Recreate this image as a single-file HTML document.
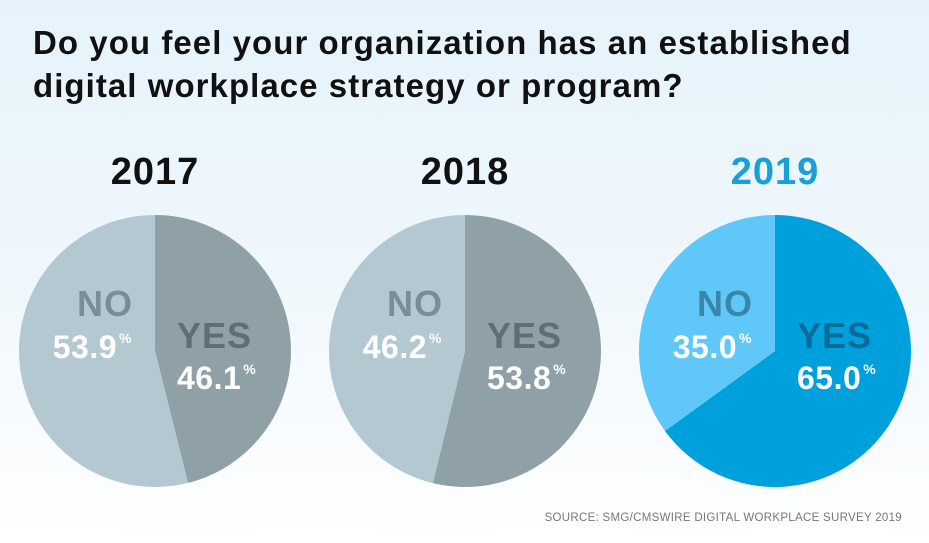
<!DOCTYPE html>
<html><head><meta charset="utf-8"><style>
html,body{margin:0;padding:0}
body{width:929px;height:543px;overflow:hidden;background:linear-gradient(180deg,#e6f3fb 0%,#eff7fc 50%,#ffffff 100%);font-family:"Liberation Sans",sans-serif;position:relative}
.title{position:absolute;left:33px;top:21px;font-size:33px;font-weight:bold;line-height:43px;color:#111;letter-spacing:1.05px}
.src{position:absolute;right:27px;top:512px;font-size:11.5px;color:#777;letter-spacing:0.3px}
</style></head><body>
<div class="title">Do you feel your organization has an established<br>digital workplace strategy or program?</div>
<svg id="chart" width="929" height="543" style="position:absolute;left:0;top:0"></svg>
<div class="src">SOURCE: SMG/CMSWIRE DIGITAL WORKPLACE SURVEY 2019</div>
<script>
const years=["2017","2018","2019"];
const yesValues=[46.1,53.8,65.0];
const noValues=[53.9,46.2,35.0];
const NS="http://www.w3.org/2000/svg";
const svg=document.getElementById('chart');
const cxs=[155,465,775], cy=351, r=136;
const styles=[
 {yes:"#8fa0a7",no:"#b4c8d1",yt:"#5e6e75",nt:"#7b8c94",year:"#111"},
 {yes:"#8fa0a7",no:"#b4c8d1",yt:"#5e6e75",nt:"#7b8c94",year:"#111"},
 {yes:"#00a0dc",no:"#5fc8f8",yt:"#0a6a98",nt:"#3a86aa",year:"#1aa0d8"}];
function pt(cx,a){return [cx+r*Math.sin(a),cy-r*Math.cos(a)];}
function el(tag,attrs,txt){const e=document.createElementNS(NS,tag);for(const k in attrs)e.setAttribute(k,attrs[k]);if(txt!=null)e.textContent=txt;svg.appendChild(e);return e;}
function slice(cx,a0,a1,fill){const p0=pt(cx,a0),p1=pt(cx,a1);const large=(a1-a0)>Math.PI?1:0;
 return el('path',{d:`M${cx},${cy} L${p0[0]},${p0[1]} A${r},${r} 0 ${large} 1 ${p1[0]},${p1[1]} Z`,fill:fill});}
function label(x,y,txt,size,fill,anchor,ls){return el('text',{x:x,y:y,'font-size':size,'font-weight':'bold','fill':fill,'text-anchor':anchor||'start','letter-spacing':ls||0,'font-family':'Liberation Sans, sans-serif'},txt);}
years.forEach((yr,i)=>{
 const cx=cxs[i],s=styles[i];
 const total=yesValues[i]+noValues[i];
 const ya=yesValues[i]/total*2*Math.PI;
 const y=label(cx,184,yr,38,s.year,'middle',1);
 
 
 const ys=slice(cx,0,ya,s.yes);
 
 
 const ns=slice(cx,ya,2*Math.PI,s.no);
 
 
 const no=label(cx-22,316,'NO',36,s.nt,'end',1);
 
 
 const np=label(cx-38,358,noValues[i].toFixed(1),32,'#fff','end',0.5);
 
 
 const nsup=label(cx-36,343,'%',14,'#fff','start');
 
 
 const yl=label(cx+22,348,'YES',36,s.yt,'start',1);
 
 
 const yp=label(cx+22,389,yesValues[i].toFixed(1),32,'#fff','start',0.5);
 
 
 const w=yp.getComputedTextLength?yp.getComputedTextLength():70;
 const ysup=label(cx+24+w,374,'%',14,'#fff','start');
 
 
});
</script>
</body></html>
